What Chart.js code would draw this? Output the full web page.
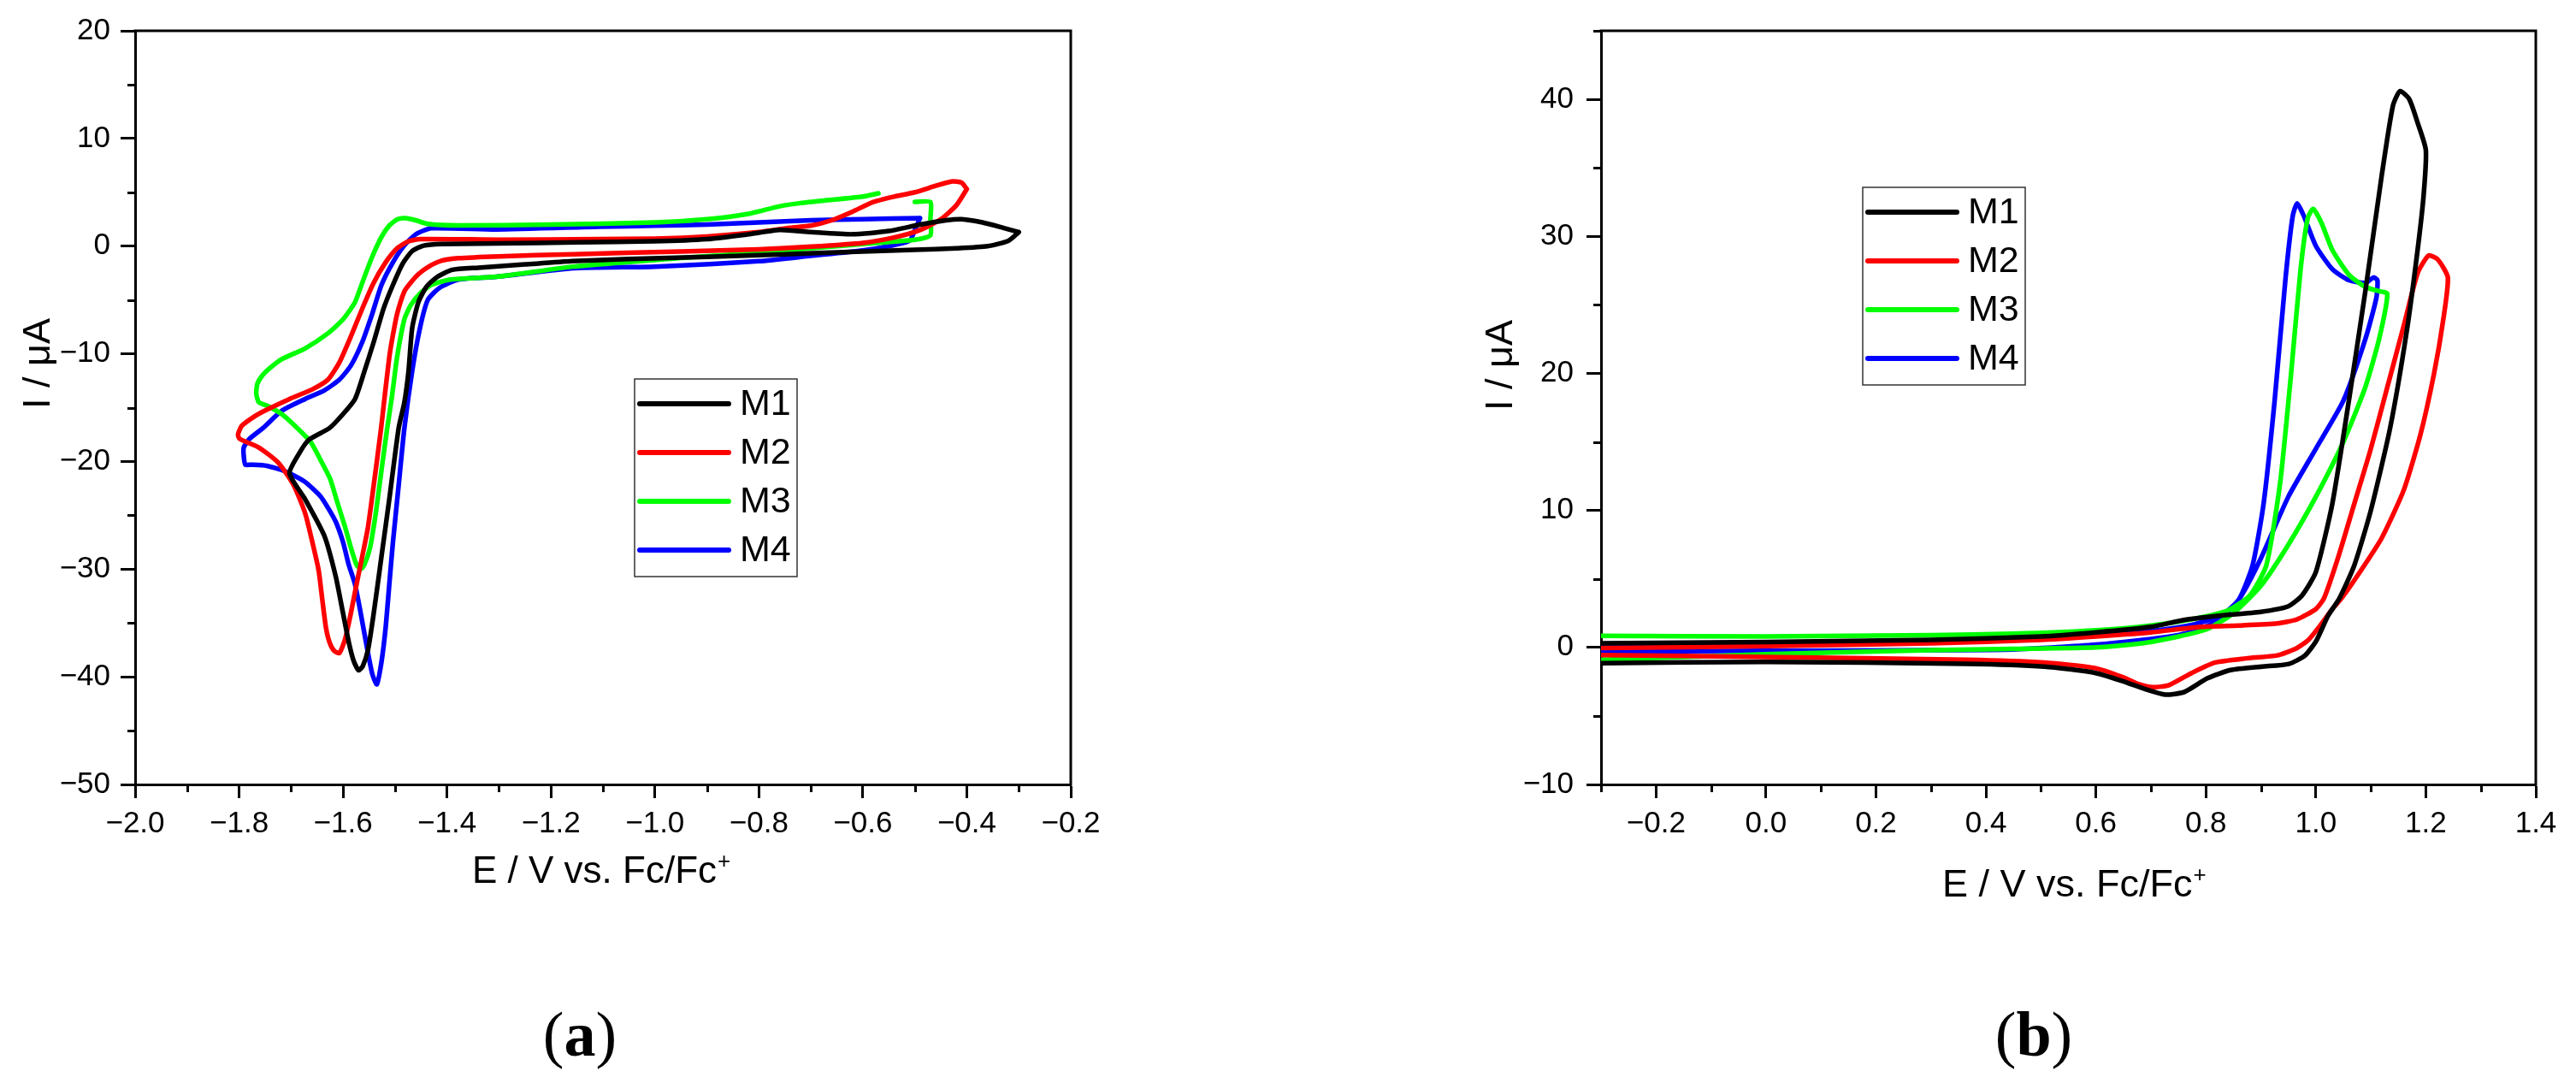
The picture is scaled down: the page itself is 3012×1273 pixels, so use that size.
<!DOCTYPE html>
<html><head><meta charset="utf-8">
<script src="https://cdn.jsdelivr.net/npm/chart.js@4/dist/chart.umd.min.js"></script>
<style>
html,body{margin:0;padding:0;background:#fff;width:3012px;height:1273px;overflow:hidden;}
#wa{position:absolute;left:0;top:0;}
#wb{position:absolute;left:1700px;top:0;}
.lab{position:absolute;top:1172px;width:200px;text-align:center;font-family:"Liberation Serif","Times New Roman",serif;font-size:74px;line-height:1;color:#000;}
</style></head><body>
<div id="wa"><canvas id="ca" width="1350" height="1100"></canvas></div>
<div id="wb"><canvas id="cb" width="1312" height="1100"></canvas></div>
<div class="lab" style="left:578px">(<b>a</b>)</div>
<div class="lab" style="left:2278px">(<b>b</b>)</div>
<script>
// ---------- data: panel (a) ----------
const seriesNames = ['M1', 'M2', 'M3', 'M4'];
const seriesColors = ['#000000', '#ff0000', '#00ff00', '#0000ff'];

const xTicksA = [-2.0, -1.8, -1.6, -1.4, -1.2, -1.0, -0.8, -0.6, -0.4, -0.2];
const xMinorA = [-1.9, -1.7, -1.5, -1.3, -1.1, -0.9, -0.7, -0.5, -0.3];
const yTicksA = [-50, -40, -30, -20, -10, 0, 10, 20];
const yMinorA = [-45, -35, -25, -15, -5, 5, 15];

const M1a = [[-0.30,1.3],[-0.32,0.5],[-0.36,0.0],[-0.42,-0.2],[-0.50,-0.35],[-0.60,-0.5],[-0.75,-0.75],[-0.90,-1.0],[-1.05,-1.2],[-1.16,-1.4],[-1.25,-1.7],[-1.34,-2.0],[-1.39,-2.2],[-1.42,-2.9],[-1.44,-3.8],[-1.455,-5.2],[-1.467,-7.6],[-1.474,-11.6],[-1.482,-14.5],[-1.493,-16.9],[-1.511,-23.5],[-1.526,-28.8],[-1.541,-34.1],[-1.552,-37.5],[-1.562,-39.0],[-1.570,-39.4],[-1.579,-38.6],[-1.588,-37.0],[-1.600,-34.1],[-1.614,-30.7],[-1.636,-26.9],[-1.673,-23.5],[-1.703,-21.1],[-1.685,-19.3],[-1.666,-18.0],[-1.626,-16.9],[-1.600,-15.6],[-1.577,-14.2],[-1.560,-11.8],[-1.541,-8.9],[-1.522,-5.8],[-1.504,-3.6],[-1.485,-1.6],[-1.467,-0.46],[-1.445,0.05],[-1.41,0.2],[-1.30,0.25],[-1.15,0.35],[-1.00,0.45],[-0.90,0.65],[-0.82,1.1],[-0.76,1.5],[-0.70,1.3],[-0.62,1.1],[-0.55,1.4],[-0.49,2.0],[-0.44,2.4],[-0.41,2.5],[-0.37,2.2],[-0.33,1.7],[-0.30,1.3]];
const M2a = [[-0.40,5.3],[-0.42,3.8],[-0.45,2.5],[-0.49,1.5],[-0.54,0.8],[-0.60,0.3],[-0.70,-0.05],[-0.80,-0.3],[-0.95,-0.5],[-1.157,-0.75],[-1.30,-0.95],[-1.378,-1.12],[-1.41,-1.35],[-1.435,-1.9],[-1.455,-2.6],[-1.470,-3.4],[-1.482,-4.2],[-1.496,-6.3],[-1.505,-8.5],[-1.511,-10.3],[-1.520,-14.0],[-1.527,-17.0],[-1.541,-22.2],[-1.552,-26.1],[-1.563,-28.8],[-1.574,-31.4],[-1.585,-34.1],[-1.596,-36.5],[-1.607,-37.8],[-1.617,-37.6],[-1.626,-36.8],[-1.633,-35.4],[-1.640,-32.8],[-1.647,-30.1],[-1.659,-27.5],[-1.673,-24.8],[-1.695,-22.2],[-1.725,-20.1],[-1.762,-18.7],[-1.799,-17.9],[-1.802,-17.5],[-1.795,-16.7],[-1.770,-15.8],[-1.747,-15.2],[-1.703,-14.2],[-1.659,-13.3],[-1.629,-12.4],[-1.607,-10.8],[-1.585,-8.4],[-1.563,-5.8],[-1.541,-3.4],[-1.518,-1.5],[-1.496,-0.2],[-1.474,0.45],[-1.452,0.65],[-1.30,0.6],[-1.107,0.65],[-1.00,0.7],[-0.90,0.9],[-0.80,1.3],[-0.74,1.7],[-0.70,1.9],[-0.66,2.4],[-0.62,3.2],[-0.58,4.1],[-0.54,4.6],[-0.50,5.0],[-0.46,5.6],[-0.43,6.0],[-0.41,5.9],[-0.40,5.3]];
const M3a = [[-0.50,4.1],[-0.47,4.1],[-0.47,2.5],[-0.47,1.0],[-0.50,0.6],[-0.60,0.2],[-0.70,-0.2],[-0.80,-0.6],[-0.95,-1.1],[-1.157,-1.9],[-1.305,-2.85],[-1.393,-3.1],[-1.430,-3.6],[-1.452,-4.4],[-1.470,-5.5],[-1.482,-6.8],[-1.496,-10.3],[-1.506,-14.0],[-1.515,-16.9],[-1.526,-20.8],[-1.537,-24.8],[-1.548,-28.0],[-1.559,-29.6],[-1.566,-30.0],[-1.574,-29.6],[-1.585,-28.0],[-1.596,-26.1],[-1.611,-23.8],[-1.625,-21.6],[-1.644,-19.8],[-1.662,-18.2],[-1.688,-16.9],[-1.718,-15.6],[-1.747,-14.8],[-1.762,-14.5],[-1.767,-13.7],[-1.765,-12.8],[-1.755,-12.0],[-1.740,-11.3],[-1.718,-10.5],[-1.673,-9.5],[-1.629,-8.1],[-1.600,-6.8],[-1.577,-5.2],[-1.563,-3.4],[-1.544,-1.0],[-1.526,0.86],[-1.511,1.92],[-1.495,2.5],[-1.480,2.6],[-1.460,2.4],[-1.437,2.06],[-1.378,1.92],[-1.20,2.0],[-1.00,2.2],[-0.90,2.5],[-0.82,3.0],[-0.76,3.7],[-0.72,4.0],[-0.66,4.3],[-0.60,4.6],[-0.57,4.9]];
const M4a = [[-0.49,2.6],[-0.50,1.5],[-0.51,0.5],[-0.55,0.0],[-0.60,-0.4],[-0.70,-0.9],[-0.80,-1.4],[-1.00,-1.9],[-1.157,-2.05],[-1.305,-2.85],[-1.378,-3.1],[-1.415,-3.9],[-1.437,-5.0],[-1.452,-7.6],[-1.467,-11.6],[-1.482,-16.9],[-1.493,-22.2],[-1.504,-27.5],[-1.511,-31.4],[-1.518,-35.4],[-1.526,-38.6],[-1.535,-40.7],[-1.544,-39.7],[-1.555,-37.0],[-1.566,-34.1],[-1.577,-31.4],[-1.589,-29.6],[-1.600,-27.5],[-1.614,-25.6],[-1.629,-24.3],[-1.644,-23.2],[-1.673,-21.9],[-1.703,-21.1],[-1.718,-20.8],[-1.747,-20.4],[-1.777,-20.3],[-1.788,-20.3],[-1.791,-19.5],[-1.791,-18.7],[-1.780,-17.9],[-1.754,-16.9],[-1.718,-15.3],[-1.673,-14.2],[-1.636,-13.4],[-1.607,-12.4],[-1.585,-11.1],[-1.563,-8.9],[-1.544,-6.3],[-1.526,-3.6],[-1.504,-1.5],[-1.482,0.07],[-1.459,1.13],[-1.430,1.66],[-1.305,1.55],[-1.107,1.8],[-1.00,1.9],[-0.90,2.0],[-0.80,2.2],[-0.70,2.4],[-0.60,2.5],[-0.49,2.6]];

// ---------- data: panel (b) ----------
const xTicksB = [-0.2, 0.0, 0.2, 0.4, 0.6, 0.8, 1.0, 1.2, 1.4];
const xMinorB = [-0.3, -0.1, 0.1, 0.3, 0.5, 0.7, 0.9, 1.1, 1.3];
const yTicksB = [-10, 0, 10, 20, 30, 40];
const yMinorB = [-5, 5, 15, 25, 35, 45];

const M1b = [[-0.30,0.3],[0.00,0.4],[0.30,0.55],[0.50,0.8],[0.60,1.1],[0.70,1.5],[0.76,2.0],[0.82,2.3],[0.90,2.6],[0.95,3.0],[0.975,3.8],[1.00,5.5],[1.03,10.5],[1.06,18],[1.09,26],[1.12,34.5],[1.14,39.5],[1.153,40.6],[1.17,40.0],[1.185,38.3],[1.200,36.3],[1.196,33],[1.185,29],[1.165,23],[1.135,16],[1.10,10],[1.07,6],[1.043,3.6],[1.022,2.3],[1.001,0.5],[0.98,-0.6],[0.951,-1.2],[0.902,-1.4],[0.845,-1.65],[0.803,-2.25],[0.761,-3.25],[0.726,-3.45],[0.690,-3.05],[0.648,-2.45],[0.598,-1.85],[0.506,-1.4],[0.365,-1.2],[0.00,-1.05],[-0.30,-1.15]];
const M2b = [[-0.30,-0.05],[0.00,0.1],[0.30,0.3],[0.50,0.55],[0.60,0.8],[0.70,1.1],[0.79,1.5],[0.86,1.6],[0.93,1.75],[0.966,2.05],[1.00,2.8],[1.015,3.6],[1.04,6.5],[1.07,10.5],[1.10,14.5],[1.13,19],[1.16,23.5],[1.185,27.3],[1.205,28.6],[1.222,28.3],[1.240,27.0],[1.232,24],[1.215,20],[1.19,15.5],[1.16,11.5],[1.12,8],[1.08,5.5],[1.047,3.6],[1.029,2.75],[1.008,1.6],[0.987,0.57],[0.965,-0.06],[0.93,-0.58],[0.873,-0.8],[0.817,-1.1],[0.775,-1.85],[0.733,-2.75],[0.704,-2.9],[0.676,-2.65],[0.648,-2.15],[0.598,-1.5],[0.506,-1.1],[0.365,-0.9],[0.00,-0.7],[-0.30,-0.55]];
const M3b = [[-0.30,0.85],[0.00,0.8],[0.30,0.9],[0.45,1.0],[0.60,1.25],[0.70,1.6],[0.78,2.1],[0.84,2.7],[0.88,3.8],[0.91,6],[0.935,12],[0.955,20],[0.972,27.5],[0.985,31.3],[0.995,32.0],[1.01,31.0],[1.03,29.0],[1.06,27.2],[1.09,26.3],[1.115,26.0],[1.13,25.8],[1.115,22.5],[1.09,19],[1.05,15],[1.00,11],[0.95,7.5],[0.90,4.5],[0.85,2.5],[0.80,1.3],[0.70,0.4],[0.60,0.0],[0.45,-0.1],[0.30,-0.2],[0.00,-0.5],[-0.30,-0.9]];
const M4b = [[-0.30,0.25],[0.00,0.35],[0.30,0.5],[0.45,0.6],[0.60,0.85],[0.70,1.2],[0.78,1.7],[0.83,2.4],[0.86,3.5],[0.885,6],[0.905,10.5],[0.925,18],[0.945,27],[0.958,31.5],[0.966,32.4],[0.978,31.5],[1.00,29.3],[1.03,27.6],[1.06,26.8],[1.09,26.6],[1.105,27.0],[1.112,26.8],[1.11,25.5],[1.09,22.5],[1.05,18],[1.00,14.5],[0.95,11],[0.90,6.5],[0.86,3.5],[0.82,1.9],[0.75,0.9],[0.60,0.2],[0.45,-0.15],[0.30,-0.2],[0.00,-0.25],[-0.30,-0.3]];

// ---------- drawing ----------
const SANS = '"Liberation Sans", Arial, Helvetica, sans-serif';
const minus = s => s.replace(/-/g, '\u2212');

function makeDecor(c) {
  return {
    id: 'decor_' + c.id,
    afterDraw(chart) {
      const ctx = chart.ctx, a = chart.chartArea, xs = chart.scales.x, ys = chart.scales.y;
      ctx.save();
      ctx.strokeStyle = '#000'; ctx.lineWidth = 3; ctx.lineCap = 'butt';
      ctx.beginPath();
      ctx.moveTo(a.left - 1.5, a.top); ctx.lineTo(a.right + 1.5, a.top);
      ctx.moveTo(a.right, a.top); ctx.lineTo(a.right, a.bottom + 1.5);
      ctx.stroke();
      ctx.beginPath();
      c.xMinor.forEach(v => { const p = Math.round(xs.getPixelForValue(v)) + 0.5; ctx.moveTo(p, a.bottom); ctx.lineTo(p, a.bottom + 9); });
      c.yMinor.forEach(v => { const p = Math.round(ys.getPixelForValue(v)) + 0.5; ctx.moveTo(a.left, p); ctx.lineTo(a.left - 9, p); });
      ctx.stroke();
      // y title
      ctx.fillStyle = '#000';
      ctx.save();
      ctx.translate(c.yTitle.x, c.yTitle.y);
      ctx.rotate(-Math.PI / 2);
      ctx.font = '45px ' + SANS; ctx.textAlign = 'center'; ctx.textBaseline = 'alphabetic';
      ctx.fillText('I / \u03bcA', 0, 0);
      ctx.restore();
      // x title
      ctx.font = c.xTitle.size + 'px ' + SANS; ctx.textAlign = 'left'; ctx.textBaseline = 'alphabetic';
      const main = 'E / V vs. Fc/Fc';
      ctx.fillText(main, c.xTitle.x, c.xTitle.y);
      const w = ctx.measureText(main).width;
      ctx.font = '26px ' + SANS;
      ctx.fillText('+', c.xTitle.x + w + 1, c.xTitle.y - 17);
      // legend
      const L = c.legend;
      ctx.lineWidth = 1.5; ctx.strokeStyle = '#333';
      ctx.strokeRect(L.x, L.y, 190, 231);
      ctx.font = '43px ' + SANS; ctx.textBaseline = 'middle'; ctx.textAlign = 'left';
      chart.data.datasets.forEach((d, i) => {
        const ry = L.y + 29 + i * 57;
        ctx.strokeStyle = d.borderColor; ctx.lineWidth = 6; ctx.lineCap = 'round';
        ctx.beginPath(); ctx.moveTo(L.x + 6, ry); ctx.lineTo(L.x + 110, ry); ctx.stroke();
        ctx.fillStyle = '#000';
        ctx.fillText(d.label, L.x + 123, ry + 1);
      });
      ctx.restore();
    }
  };
}

function makeChart(c) {
  const datasets = c.series.map((s, i) => ({
    label: seriesNames[i],
    data: s.map(p => ({x: p[0], y: p[1]})),
    borderColor: seriesColors[i],
    backgroundColor: seriesColors[i],
    borderWidth: 5.5,
    pointRadius: 0,
    showLine: true,
    tension: 0.2,
    borderJoinStyle: 'round',
    borderCapStyle: 'round'
  }));
  return new Chart(document.getElementById(c.id), {
    type: 'scatter',
    data: {datasets},
    options: {
      responsive: false, animation: false, devicePixelRatio: 1,
      layout: {padding: {left: 0, top: 36, right: c.padRight, bottom: 0}},
      plugins: {legend: {display: false}, tooltip: {enabled: false}},
      scales: {
        x: {
          type: 'linear', min: c.xMin, max: c.xMax,
          afterBuildTicks: ax => { ax.ticks = c.xTicks.map(v => ({value: v})); },
          afterFit: ax => { ax.height = 1100 - 917; },
          ticks: {autoSkip: false, maxRotation: 0, padding: 9, color: '#000',
                  font: {family: SANS, size: 35}, callback: v => minus(Number(v).toFixed(1))},
          grid: {display: true, drawOnChartArea: false, drawTicks: true, tickLength: 16, tickWidth: 3, tickColor: '#000'},
          border: {display: true, color: '#000', width: 3}
        },
        y: {
          type: 'linear', min: c.yMin, max: c.yMax,
          afterBuildTicks: ax => { ax.ticks = c.yTicks.map(v => ({value: v})); },
          afterFit: ax => { ax.width = c.yAxisW; },
          ticks: {autoSkip: false, padding: c.yPad, color: '#000',
                  font: {family: SANS, size: 35}, callback: v => minus(String(v))},
          grid: {display: true, drawOnChartArea: false, drawTicks: true, tickLength: 17, tickWidth: 3, tickColor: '#000'},
          border: {display: true, color: '#000', width: 3}
        }
      }
    },
    plugins: [makeDecor(c)]
  });
}

makeChart({
  id: 'ca', series: [M1a, M2a, M3a, M4a],
  xMin: -2.0, xMax: -0.2, yMin: -50, yMax: 20,
  xTicks: xTicksA, yTicks: yTicksA, xMinor: xMinorA, yMinor: yMinorA,
  padRight: 1350 - 1252, yAxisW: 158, yPad: 12,
  yTitle: {x: 58, y: 425}, xTitle: {x: 552, y: 1032, size: 44},
  legend: {x: 742, y: 443}
});
makeChart({
  id: 'cb', series: [M1b, M2b, M3b, M4b],
  xMin: -0.3, xMax: 1.4, yMin: -10, yMax: 45,
  xTicks: xTicksB, yTicks: yTicksB, xMinor: xMinorB, yMinor: yMinorB,
  padRight: 1312 - 1265, yAxisW: 172, yPad: 15,
  yTitle: {x: 68, y: 427}, xTitle: {x: 571, y: 1048, size: 45},
  legend: {x: 478, y: 219}
});
</script>
</body></html>
